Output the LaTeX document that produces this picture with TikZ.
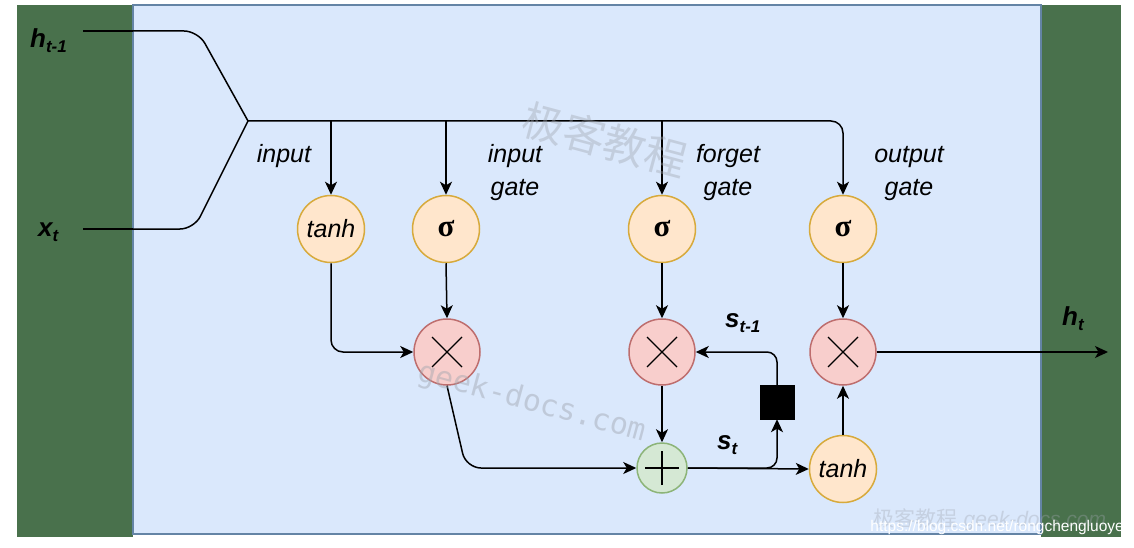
\documentclass[tikz,border=0pt]{standalone}
\usepackage{fontspec}
\setmainfont{Liberation Sans}
\newfontfamily\sigfont{Liberation Serif}
\newfontfamily\cjkfont{Noto Sans CJK SC}
\newfontfamily\wmono{DejaVu Sans Mono}
\usetikzlibrary{arrows.meta}
\definecolor{dkgreen}{RGB}{73,113,76}
\definecolor{panelfill}{RGB}{218,232,252}
\definecolor{panelline}{RGB}{100,132,165}
\definecolor{yfill}{RGB}{255,230,204}
\definecolor{yline}{RGB}{215,170,60}
\definecolor{rfill}{RGB}{248,206,204}
\definecolor{rline}{RGB}{190,110,110}
\definecolor{gfill}{RGB}{213,232,212}
\definecolor{gline}{RGB}{140,180,120}
\definecolor{wmgray}{RGB}{160,165,175}
\newcommand{\lstmsub}[1]{\raisebox{-5pt}{\fontsize{17}{17}\selectfont #1}}
\tikzset{
  ln/.style={line width=1.5pt, draw=black},
  arr/.style={line width=1.5pt, draw=black, -{Stealth[length=13pt 0,width=12pt 0,inset=3.5pt 0]}},
  ycirc/.style={circle, draw=yline, fill=yfill, line width=1.5pt, minimum size=67pt, inner sep=0pt, font=\fontsize{25}{30}\selectfont},
  rcirc/.style={circle, draw=rline, fill=rfill, line width=1.5pt, minimum size=66pt, inner sep=0pt,
    path picture={\draw[draw=black, line width=1.2pt] ([shift={(-15pt,-15pt)}]path picture bounding box.center) -- ([shift={(15pt,15pt)}]path picture bounding box.center);
                  \draw[draw=black, line width=1.2pt] ([shift={(-15pt,15pt)}]path picture bounding box.center) -- ([shift={(15pt,-15pt)}]path picture bounding box.center);}},
  gcirc/.style={circle, draw=gline, fill=gfill, line width=1.5pt, minimum size=50pt, inner sep=0pt,
    path picture={\draw[draw=black, line width=1.4pt] ([shift={(-17pt,0pt)}]path picture bounding box.center) -- ([shift={(17pt,0pt)}]path picture bounding box.center);
                  \draw[draw=black, line width=1.4pt] ([shift={(0pt,-17pt)}]path picture bounding box.center) -- ([shift={(0pt,17pt)}]path picture bounding box.center);}},
  sqbox/.style={rectangle, fill=black, draw=black, minimum size=34pt, inner sep=0pt},
  lab/.style={font=\fontsize{25}{30}\selectfont\itshape, inner sep=0pt, anchor=base},
  blab/.style={font=\fontsize{26}{30}\selectfont\bfseries\itshape, inner sep=0pt, anchor=base west},
  sigtxt/.style={font=\sigfont\bfseries\fontsize{31}{31}\selectfont}
}
\begin{document}
\begin{tikzpicture}[x=1pt,y=-1pt]
\useasboundingbox (0,0) rectangle (1134,548);
\fill[white] (0,0) rectangle (1134,548);
% background panels
\fill[dkgreen] (17,5) rectangle (133,537);
\fill[dkgreen] (1041,5) rectangle (1121,537);
\filldraw[fill=panelfill, draw=panelline, line width=1.5pt] (133,5) rectangle (1041,534);

% nodes
\node[ycirc] (tanhI) at (331,229) {\itshape tanh};
\node[ycirc, sigtxt] (sigI) at (446,229) {σ};
\node[ycirc, sigtxt] (sigF) at (662,229) {σ};
\node[ycirc, sigtxt] (sigO) at (843,229) {σ};
\node[rcirc] (mulI) at (447,352) {};
\node[rcirc] (mulF) at (662,352) {};
\node[rcirc] (mulO) at (843,352) {};
\node[gcirc] (plus) at (662,468) {};
\node[ycirc] (tanhO) at (843,469) {\itshape tanh};
\node[sqbox] (sq) at (777,402) {};

\coordinate (hin) at (83,31);
\coordinate (xin) at (83,229);
\coordinate (J) at (248,121);
\coordinate (hout) at (1108,352);

% input lines
\draw[ln, rounded corners=14pt] (hin) -- (198,31) -- (J);
\draw[ln, rounded corners=14pt] (J) -- (194,229) -- (xin);
\draw[line width=2.5pt] (hin) -- (133,31);
\draw[line width=2.5pt] (xin) -- (133,229);

% distribution
\draw[arr, rounded corners=12pt] (J) -- (sigO.north |- J) -- (sigO.north);
\draw[arr] (tanhI.north |- J) -- (tanhI.north);
\draw[arr] (sigI.north |- J) -- (sigI.north);
\draw[arr] (sigF.north |- J) -- (sigF.north);

% gates
\draw[arr, rounded corners=12pt] (tanhI.south) -- (tanhI.south |- mulI.west) -- (mulI.west);
\draw[arr] (sigI.south) -- (mulI.north);
\draw[arr, rounded corners=15pt] (mulI.south) -- (466,468) -- (plus.west);
\draw[arr] (sigF.south) -- (mulF.north);
\draw[arr] (mulF.south) -- (plus.north);
\draw[arr] (plus.east) -- (tanhO.west);
\draw[arr, rounded corners=10pt] (plus.east) -- (sq.south |- plus.east) -- (sq.south);
\draw[arr, rounded corners=10pt] (sq.north) -- (sq.north |- mulF.east) -- (mulF.east);
\draw[arr] (sigO.south) -- (mulO.north);
\draw[arr] (tanhO.north) -- (mulO.south);
\draw[arr] (mulO.east) -- (hout);

% labels
\node[lab] (tIn) at (284,163) {input};
\node[lab] (ig1) at (515,163) {input};
\node[lab] (ig2) at (515,195) {gate};
\node[lab] (fg1) at (728,163) {forget};
\node[lab] (fg2) at (728,195) {gate};
\node[lab] (og1) at (909,163) {output};
\node[lab] (og2) at (909,195) {gate};

\node[blab] (lh1) at (30,48) {h\lstmsub{t-1}};
\node[blab] (lx) at (38,236) {x\lstmsub{t}};
\node[blab] (lht) at (1062,325) {h\lstmsub{t}};
\node[blab] (ls1) at (725,327) {s\lstmsub{t-1}};
\node[blab] (lst) at (717,449) {s\lstmsub{t}};

% watermarks
\node[text=wmgray, opacity=0.4, rotate=-15, font=\cjkfont\fontsize{42}{44}\selectfont] (wm1) at (605,140) {极客教程};
\node[text=wmgray, opacity=0.45, rotate=-15, font=\wmono\fontsize{30}{32}\selectfont] (wm2) at (532,403) {geek-docs.com};
\node[text=wmgray, opacity=0.35, font=\fontsize{21}{22}\selectfont\itshape, anchor=base] (wm3) at (990,526) {{\cjkfont 极客教程} geek-docs.com};
\node[text=white, font=\fontsize{15.5}{16}\selectfont, anchor=base east, inner sep=0pt] (wm4) at (1124,531) {https://blog.csdn.net/rongchengluoye};
\end{tikzpicture}
\end{document}
